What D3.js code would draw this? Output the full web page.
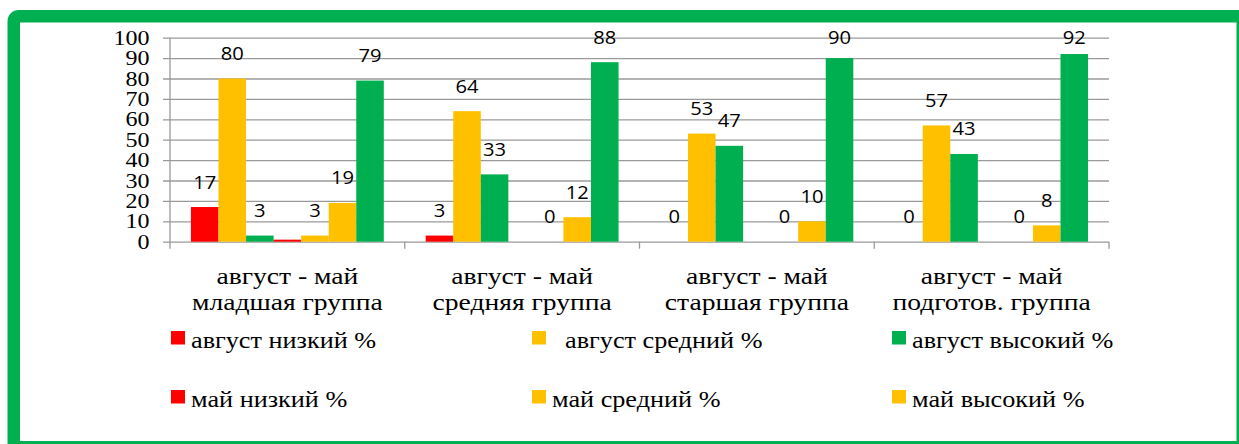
<!doctype html>
<html lang="ru">
<head>
<meta charset="utf-8">
<script src="https://cdn.jsdelivr.net/npm/d3@7/dist/d3.min.js"></script>
<style>
    body { margin: 0; background: #ffffff; }
    svg { display: block; }
</style>
</head>
<body>
<svg id="chart" width="1239" height="444"></svg>
<script>
    // chart data
    var periodLabel = "август - май";
    var groups = ["младшая группа", "средняя группа", "старшая группа", "подготов. группа"];
    var seriesNames = ["август низкий %", "  август средний %", "август высокий %",
                       "май низкий %", "май средний %", "май высокий %"];
    var seriesColors = ["#FF0000", "#FFC000", "#00B050", "#FF0000", "#FFC000", "#FFC000", "#00B050"];

    var augLow  = [17, 3, 0, 0];
    var augMid  = [80, 64, 53, 57];
    var augHigh = [3, 33, 47, 43];
    var mayLow  = [1, null, null, null];
    var mayMid  = [3, 0, 0, 0];
    var mayHigh = [19, 12, 10, 8];
    var mayTop  = [79, 88, 90, 92];
    var seriesValues = [augLow, augMid, augHigh, mayLow, mayMid, mayHigh, mayTop];
    var showLabels = [true, true, true, false, true, true, true];

    var yTicks = [0, 10, 20, 30, 40, 50, 60, 70, 80, 90, 100];

    var svg = d3.select("#chart");
    var plotL = 170, plotR = 1109, plotT = 37.7, plotB = 241.7;
    var gridColor = "#9a9a9a";
    var serif = '"Liberation Serif", "Times New Roman", serif';
    var sans = '"Open Sans", "Noto Sans", sans-serif';

    // green frame (cropped at right / bottom like the picture)
    svg.append("rect")
        .attr("x", 13.75).attr("y", 16.25)
        .attr("width", 1229).attr("height", 431)
        .attr("rx", 5)
        .attr("fill", "none")
        .attr("stroke", "#00B050")
        .attr("stroke-width", 12.5);

    // scales
    var x0 = d3.scaleBand().domain(d3.range(groups.length)).range([plotL, plotR]).padding(0);
    var x1 = d3.scaleBand().domain(d3.range(seriesValues.length))
        .range([0, x0.bandwidth()]).paddingInner(0).paddingOuter(0.76);
    var y = d3.scaleLinear().domain([0, 100]).range([plotB, plotT]);

    // y axis with gridlines
    var yAxis = d3.axisLeft(y).tickValues(yTicks).tickSize(-(plotR - plotL)).tickFormat(d3.format("d"));
    var yg = svg.append("g")
        .attr("transform", "translate(" + plotL + ",0)")
        .call(yAxis);
    yg.select(".domain").attr("stroke", gridColor).attr("stroke-width", 1.3)
        .attr("d", "M0," + plotT + "V" + plotB);
    yg.selectAll(".tick line").attr("x1", -7).attr("stroke", gridColor).attr("stroke-width", 1.3);
    yg.selectAll(".tick text")
        .attr("x", 0).attr("dy", null)
        .attr("text-anchor", "end")
        .attr("fill", "#000")
        .style("font-family", serif)
        .style("font-size", "20px")
        .attr("transform", "translate(-20.5,6.6) scale(1.2,1)");

    // category boundary ticks
    var bounds = groups.map(function(g, i) { return x0(i); }).concat([plotR]);
    svg.selectAll(".ctick").data(bounds).enter().append("line")
        .attr("class", "ctick")
        .attr("x1", function(d) { return d; }).attr("x2", function(d) { return d; })
        .attr("y1", plotB).attr("y2", plotB + 7)
        .attr("stroke", gridColor).attr("stroke-width", 1.3);

    // bars
    var barData = [];
    seriesValues.forEach(function(vals, s) {
        vals.forEach(function(v, g) {
            if (v !== null) barData.push({ s: s, g: g, v: v });
        });
    });

    svg.selectAll(".bar").data(barData.filter(function(d) { return d.v > 0; }))
        .enter().append("rect")
        .attr("class", "bar")
        .attr("x", function(d) { return x0(d.g) + x1(d.s); })
        .attr("y", function(d) { return y(d.v); })
        .attr("width", x1.bandwidth())
        .attr("height", function(d) { return y(0) - y(d.v); })
        .attr("fill", function(d) { return seriesColors[d.s]; });

    // value labels
    svg.selectAll(".val").data(barData.filter(function(d) { return showLabels[d.s]; }))
        .enter().append("text")
        .attr("class", "val")
        .attr("text-anchor", "middle")
        .style("font-family", sans)
        .style("font-size", "18px")
        .attr("fill", "#000")
        .attr("transform", function(d) {
            var cx = x0(d.g) + x1(d.s) + x1.bandwidth() / 2;
            var by = Math.max(y(d.v) - 18.5, y(100) + 6.6);
            return "translate(" + cx + "," + by + ") scale(1.12,1)";
        })
        .text(function(d) { return d.v; });

    // category labels
    var cat = svg.selectAll(".cat").data(groups).enter().append("g")
        .attr("class", "cat")
        .attr("transform", function(d, i) { return "translate(" + (x0(i) + x0.bandwidth() / 2) + ",0)"; })
        .style("font-family", serif)
        .style("font-size", "23px");
    cat.append("text")
        .attr("text-anchor", "middle")
        .attr("transform", "translate(0,284.3) scale(1.2,1)")
        .text(periodLabel);
    cat.append("text")
        .attr("text-anchor", "middle")
        .attr("transform", "translate(0,310) scale(1.2,1)")
        .text(function(d) { return d; });

    // legend
    var colX = [171, 532, 892], rowY = [331, 390];
    var leg = svg.selectAll(".leg").data(seriesNames).enter().append("g")
        .attr("class", "leg")
        .attr("transform", function(d, i) {
            return "translate(" + colX[i % 3] + "," + rowY[Math.floor(i / 3)] + ")";
        });
    leg.append("rect")
        .attr("width", 14).attr("height", 13.5)
        .attr("fill", function(d, i) { return seriesColors[i]; });
    leg.append("text")
        .attr("xml:space", "preserve")
        .style("white-space", "pre")
        .style("font-family", serif)
        .style("font-size", "23px")
        .attr("transform", "translate(20,17) scale(1.14,1)")
        .text(function(d) { return d; });
</script>
</body>
</html>
